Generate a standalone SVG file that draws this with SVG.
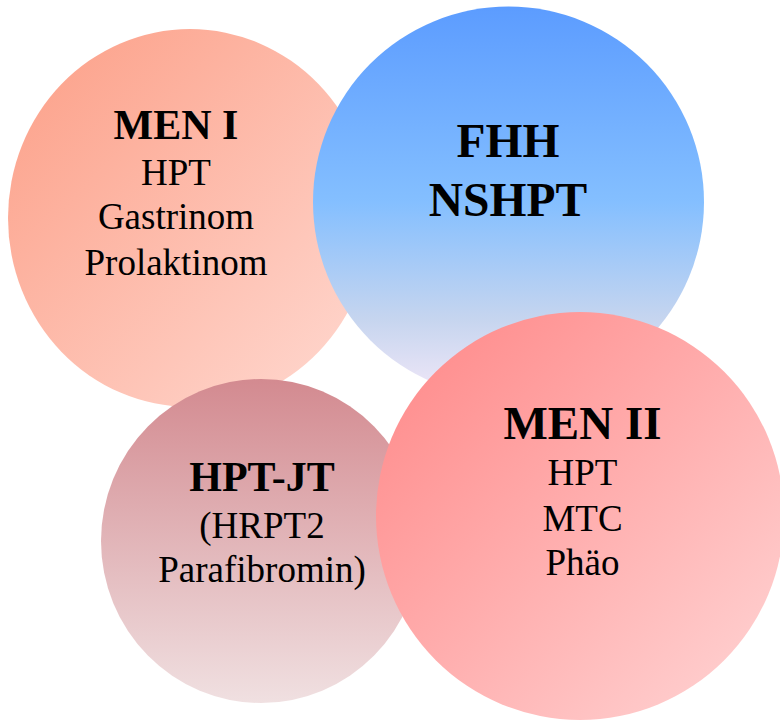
<svg xmlns="http://www.w3.org/2000/svg" width="780" height="721" viewBox="0 0 780 721">
<defs>
<linearGradient id="gMen1" x1="0" y1="0" x2="1" y2="1">
<stop offset="0" stop-color="#FC9E86"/>
<stop offset="1" stop-color="#FFDAD2"/>
</linearGradient>
<linearGradient id="gFhh" x1="0" y1="0" x2="0" y2="1">
<stop offset="0" stop-color="#5C9CFF"/>
<stop offset="0.5" stop-color="#84BFFF"/>
<stop offset="0.8" stop-color="#C6D5EF"/>
<stop offset="1" stop-color="#F2E8F8"/>
</linearGradient>
<linearGradient id="gJt" x1="0" y1="0" x2="0" y2="1">
<stop offset="0" stop-color="#D38A90"/>
<stop offset="1" stop-color="#F0E0E1"/>
</linearGradient>
<linearGradient id="gMen2" x1="0" y1="0" x2="1" y2="1">
<stop offset="0" stop-color="#FF8686"/>
<stop offset="1" stop-color="#FFD6D6"/>
</linearGradient>
</defs>
<style>
text{font-family:"Liberation Serif","Times New Roman",serif;fill:#000;text-anchor:middle}
.t{font-weight:bold}
.r{font-size:37px}
</style>
<g id="men1">
<ellipse cx="190" cy="218" rx="182" ry="189" fill="url(#gMen1)"/>
<text x="176" y="139" class="t" font-size="42">MEN I</text>
<text x="176" y="185" class="r">HPT</text>
<text x="176" y="229" class="r">Gastrinom</text>
<text x="176" y="275" class="r">Prolaktinom</text>
</g>
<g id="fhh">
<circle cx="508.5" cy="202" r="195.5" fill="url(#gFhh)"/>
<text x="508" y="157" class="t" font-size="47.5">FHH</text>
<text x="508" y="216" class="t" font-size="47.5">NSHPT</text>
</g>
<g id="hptjt">
<ellipse cx="261" cy="541" rx="160" ry="162" fill="url(#gJt)"/>
<text x="262" y="491" class="t" font-size="42">HPT-JT</text>
<text x="262" y="538" class="r">(HRPT2</text>
<text x="262" y="582" class="r">Parafibromin)</text>
</g>
<g id="men2">
<circle cx="580" cy="516" r="204" fill="url(#gMen2)"/>
<text x="582.5" y="439" class="t" font-size="47">MEN II</text>
<text x="582.5" y="485" class="r">HPT</text>
<text x="582.5" y="531" class="r">MTC</text>
<text x="582.5" y="575" class="r">Phäo</text>
</g>
<g id="connectors"/>
</svg>
